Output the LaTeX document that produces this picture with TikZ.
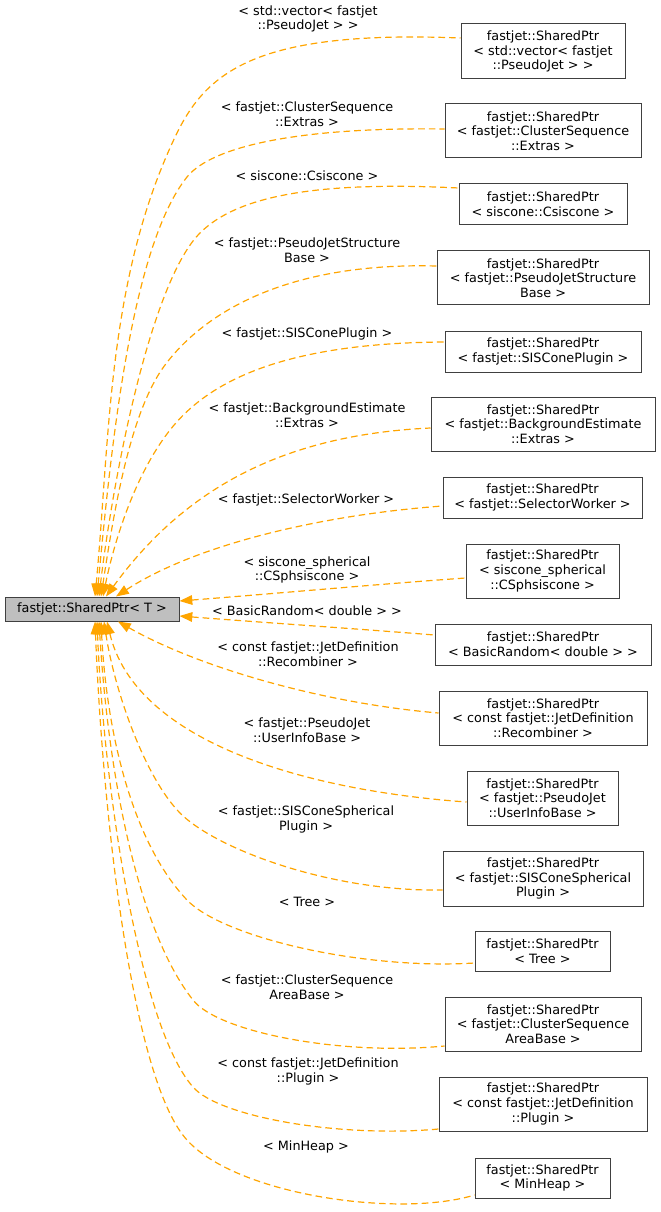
\documentclass[tikz,border=0pt]{standalone}
\usepackage{fontspec}
\setmainfont{DejaVu Sans}
\usetikzlibrary{arrows.meta,calc}
\definecolor{edgeorange}{HTML}{FFA500}
\definecolor{bordergray}{HTML}{404040}
\definecolor{basefill}{HTML}{BFBFBF}
\newcommand\lblfont{\fontsize{9.6pt}{11pt}\selectfont}
\begin{document}
\begin{tikzpicture}[x=0.75pt,y=-0.75pt,
  rbox/.style={draw=bordergray, line width=0.75pt, fill=white, align=center, inner sep=0pt, font=\lblfont},
  basebox/.style={rbox, fill=basefill},
  lab/.style={align=center, inner sep=0pt, font=\lblfont},
  edge/.style={draw=edgeorange, line width=0.9pt, dash pattern=on 5pt off 3pt, {Triangle[length=9.6pt,width=7.2pt]}-},
  sz/.style 2 args={minimum width=#1pt, minimum height=#2pt}]
\useasboundingbox (0,0) rectangle (660,1212);

% nodes
\node[basebox, sz={130.5}{18}] (L) at (92,609) {fastjet::SharedPtr< T >};
\node[rbox, sz={123}{41.25}] (r1) at (543,51.5) {fastjet::SharedPtr\\< std::vector< fastjet\\::PseudoJet > >};
\node[rbox, sz={147}{40.5}] (r2) at (543,131) {fastjet::SharedPtr\\< fastjet::ClusterSequence\\::Extras >};
\node[rbox, sz={126}{30.75}] (r3) at (543,204.5) {fastjet::SharedPtr\\< siscone::Csiscone >};
\node[rbox, sz={159}{40.5}] (r4) at (543,278) {fastjet::SharedPtr\\< fastjet::PseudoJetStructure\\Base >};
\node[rbox, sz={147}{30.75}] (r5) at (543,351.5) {fastjet::SharedPtr\\< fastjet::SISConePlugin >};
\node[rbox, sz={168}{40.5}] (r6) at (543,424) {fastjet::SharedPtr\\< fastjet::BackgroundEstimate\\::Extras >};
\node[rbox, sz={149.25}{30.75}] (r7) at (542.5,497.5) {fastjet::SharedPtr\\< fastjet::SelectorWorker >};
\node[rbox, sz={114.75}{40.5}] (r8) at (542.5,571) {fastjet::SharedPtr\\< siscone\_spherical\\::CSphsiscone >};
\node[rbox, sz={162}{30.75}] (r9) at (543,644.5) {fastjet::SharedPtr\\< BasicRandom< double > >};
\node[rbox, sz={156}{40.5}] (r10) at (543,718) {fastjet::SharedPtr\\< const fastjet::JetDefinition\\::Recombiner >};
\node[rbox, sz={113.25}{40.5}] (r11) at (542.5,798) {fastjet::SharedPtr\\< fastjet::PseudoJet\\::UserInfoBase >};
\node[rbox, sz={150}{41.25}] (r12) at (543,878.5) {fastjet::SharedPtr\\< fastjet::SISConeSpherical\\Plugin >};
\node[rbox, sz={101.25}{30}] (r13) at (542.5,951.5) {fastjet::SharedPtr\\< Tree >};
\node[rbox, sz={147}{40.5}] (r14) at (543,1024) {fastjet::SharedPtr\\< fastjet::ClusterSequence\\AreaBase >};
\node[rbox, sz={156}{40.5}] (r15) at (543,1104) {fastjet::SharedPtr\\< const fastjet::JetDefinition\\::Plugin >};
\node[rbox, sz={101.25}{30}] (r16) at (542.5,1178) {fastjet::SharedPtr\\< MinHeap >};

% labels
\node[lab] (l1) at (308,19) {< std::vector< fastjet\\::PseudoJet > >};
\node[lab] (l2) at (307,114) {< fastjet::ClusterSequence\\::Extras >};
\node[lab] (l3) at (307,176) {< siscone::Csiscone >};
\node[lab] (l4) at (307,250.5) {< fastjet::PseudoJetStructure\\Base >};
\node[lab] (l5) at (307,334) {< fastjet::SISConePlugin >};
\node[lab] (l6) at (307,415.5) {< fastjet::BackgroundEstimate\\::Extras >};
\node[lab] (l7) at (306,500) {< fastjet::SelectorWorker >};
\node[lab] (l8) at (307,570) {< siscone\_spherical\\::CSphsiscone >};
\node[lab] (l9) at (307,611) {< BasicRandom< double > >};
\node[lab] (l10) at (308,654) {< const fastjet::JetDefinition\\::Recombiner >};
\node[lab] (l11) at (307,730) {< fastjet::PseudoJet\\::UserInfoBase >};
\node[lab] (l12) at (306,819.5) {< fastjet::SISConeSpherical\\Plugin >};
\node[lab] (l13) at (307,902) {< Tree >};
\node[lab] (l14) at (307,987.5) {< fastjet::ClusterSequence\\AreaBase >};
\node[lab] (l15) at (308,1071.5) {< const fastjet::JetDefinition\\::Plugin >};
\node[lab] (l16) at (306,1147) {< MinHeap >};

% end points
\coordinate (t1) at ($(L.north)+(3,0)$);
\coordinate (t2) at ($(L.north)+(5,0)$);
\coordinate (t3) at ($(L.north)+(7,0)$);
\coordinate (t4) at ($(L.north)+(9,0)$);
\coordinate (t5) at ($(L.north)+(11,0)$);
\coordinate (t6) at ($(L.north)+(14,0)$);
\coordinate (t7) at ($(L.north)+(24,0)$);
\coordinate (t8) at ($(L.east)+(0,-8)$);
\coordinate (t9) at ($(L.east)+(0,7)$);
\coordinate (t10) at ($(L.south)+(26,0)$);
\coordinate (t11) at ($(L.south)+(15,0)$);
\coordinate (t12) at ($(L.south)+(12,0)$);
\coordinate (t13) at ($(L.south)+(9,0)$);
\coordinate (t14) at ($(L.south)+(7,0)$);
\coordinate (t15) at ($(L.south)+(5,0)$);
\coordinate (t16) at ($(L.south)+(3,0)$);
\coordinate (s1) at ($(r1.west)+(0,-13.5)$);
\coordinate (s2) at ($(r2.west)+(0,-2)$);
\coordinate (s3) at ($(r3.west)+(0,-16.5)$);
\coordinate (s4) at ($(r4.west)+(0,-12)$);
\coordinate (s5) at ($(r5.west)+(0,-9.5)$);
\coordinate (s6) at ($(r6.west)+(0,4)$);
\coordinate (s7) at ($(r7.west)+(0,8.5)$);
\coordinate (s8) at ($(r8.west)+(0,7)$);
\coordinate (s9) at ($(r9.west)+(0,-9.5)$);
\coordinate (s10) at ($(r10.west)+(0,-5)$);
\coordinate (s11) at ($(r11.west)+(0,4)$);
\coordinate (s12) at ($(r12.west)+(0,11.5)$);
\coordinate (s13) at ($(r13.west)+(0,11.5)$);
\coordinate (s14) at ($(r14.west)+(0,22)$);
\coordinate (s15) at ($(r15.west)+(0,25)$);
\coordinate (s16) at ($(r16.west)+(0,17)$);

% edges
\draw[edge] (t1) .. controls (110,438) and (107,277) .. (177,133) .. controls (208,70) and (260,30) .. (s1);
\draw[edge] (t2) .. controls (111,448) and (131,247) .. (187,177) .. controls (212,146) and (300,127) .. (s2);
\draw[edge] (t3) .. controls (113,478) and (150.5,282.5) .. (200,233) .. controls (232,201) and (300,180) .. (s3);
\draw[edge] (t4) .. controls (113,518) and (129,413) .. (165,365) .. controls (201,317) and (280,262) .. (s4);
\draw[edge] (t5) .. controls (113,547) and (133,477) .. (170,430) .. controls (207,383) and (280,343) .. (s5);
\draw[edge] (t6) .. controls (183,491) and (280,435) .. (s6);
\draw[edge] (t7) .. controls (195,545) and (320,515) .. (s7);
\draw[edge] (t8) .. controls (270,594) and (380,584) .. (s8);
\draw[edge] (t9) .. controls (270,623) and (360,629) .. (s9);
\draw[edge] (t10) .. controls (196,666) and (320,703) .. (s10);
\draw[edge] (t11) .. controls (135,740) and (300,790) .. (s11);
\draw[edge] (t12) .. controls (114.5,691) and (145,777.5) .. (180,813) .. controls (215,848.5) and (330,892) .. (s12);
\draw[edge] (t13) .. controls (106.5,732) and (132,842) .. (187,900) .. controls (221.5,936.5) and (360,970) .. (s13);
\draw[edge] (t14) .. controls (108,772) and (137,929) .. (193,1000) .. controls (218,1032) and (340,1056) .. (s14);
\draw[edge] (t15) .. controls (104,792) and (140,1027) .. (193,1087) .. controls (219,1117) and (340,1138) .. (s15);
\draw[edge] (t16) .. controls (103,822) and (133,1081) .. (187,1140) .. controls (237,1195.5) and (400,1218) .. (s16);
\end{tikzpicture}
\end{document}
